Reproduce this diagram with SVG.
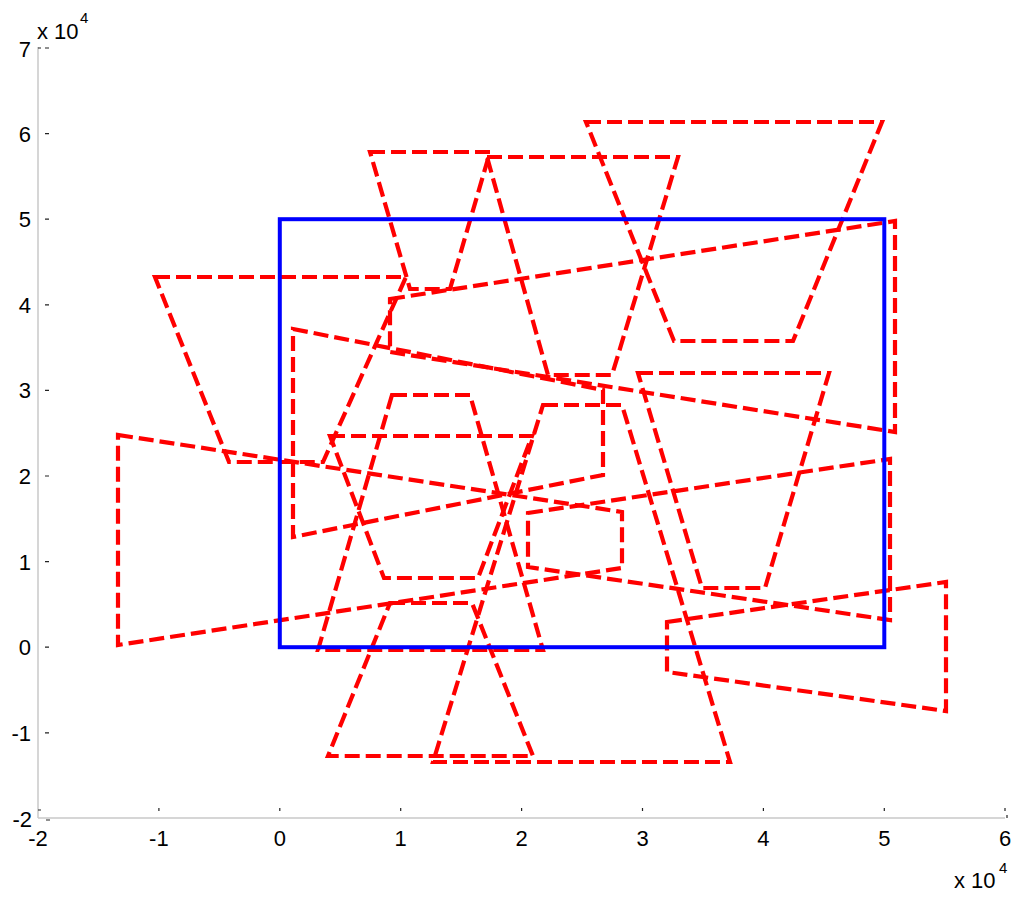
<svg xmlns="http://www.w3.org/2000/svg" width="1024" height="899" viewBox="0 0 1024 899">
<style>
.ax{stroke:#c8c8c8;stroke-width:1.5;fill:none}
.tk{stroke:#222;stroke-width:1.2;fill:none}
.lb{font-family:"Liberation Sans",Arial,sans-serif;font-size:22px;fill:#000}
.ly{text-anchor:end}
.lx{text-anchor:middle}
.sup{font-family:"Liberation Sans",Arial,sans-serif;font-size:15px;fill:#000}
.r{fill:none;stroke:#ff0000;stroke-width:4.2;stroke-dasharray:15 6;stroke-linejoin:miter}
.b{fill:none;stroke:#0000ff;stroke-width:4}
</style>
<rect width="1024" height="899" fill="#fff"/>
<g id="axes">
<line class="ax" x1="38" y1="47" x2="38" y2="818"/>
<line class="ax" x1="38" y1="818" x2="1005" y2="818"/>
<g class="tk">
<path d="M45 48H49M45 133.6H49M45 219.2H49M45 304.8H49M45 390.4H49M45 476H49M45 561.6H49M45 647.2H49M45 732.8H49M38 810H41M46 820H50M38 48H41"/>
<path d="M158.9 808V811M279.8 808V811M400.7 808V811M521.6 808V811M642.5 808V811M763.4 808V811M884.3 808V811M1005 808V811M1007 815V818"/>
</g>
<g class="lb ly">
<text x="31" y="57">7</text>
<text x="31" y="141.6">6</text>
<text x="31" y="227.2">5</text>
<text x="31" y="312.8">4</text>
<text x="31" y="398.4">3</text>
<text x="31" y="484">2</text>
<text x="31" y="569.6">1</text>
<text x="31" y="655.2">0</text>
<text x="31" y="740.8">-1</text>
<text x="32" y="827">-2</text>
</g>
<g class="lb lx">
<text x="38" y="846">-2</text>
<text x="158.9" y="846">-1</text>
<text x="279.8" y="846">0</text>
<text x="400.7" y="846">1</text>
<text x="521.6" y="846">2</text>
<text x="642.5" y="846">3</text>
<text x="763.4" y="846">4</text>
<text x="884.3" y="846">5</text>
<text x="1005" y="846">6</text>
</g>
<text class="lb" x="37" y="39">x 10</text>
<text class="sup" x="80" y="23">4</text>
<text class="lb" x="954" y="888">x 10</text>
<text class="sup" x="999" y="873">4</text>
</g>
<g id="red-shapes">
<polygon id="p1" class="r" points="370,152 490,152 450,289 410,289"/>
<polygon id="p2" class="r" points="487,157 678,157 612,375 548,375"/>
<polygon id="p3" class="r" points="586,122 882,122 793,341 674,341"/>
<polygon id="p4" class="r" points="155,277 406,277 323,462 229,462"/>
<polygon id="p5" class="r" points="330,436 532,436 478,578 384,578"/>
<polygon id="p6" class="r" points="392,395 470,395 543,650 318,650"/>
<polygon id="p7" class="r" points="118,435 622,512 622,568 118,645"/>
<polygon id="p8" class="r" points="293,329 603,390 603,475 293,537"/>
<polygon id="p9" class="r" points="390,299 895,221 895,432 390,352"/>
<polygon id="p10" class="r" points="528,513 890,459 890,620 528,567"/>
<polygon id="p11" class="r" points="638,373 829,373 765,588 702,588"/>
<polygon id="p12" class="r" points="543,405 622,405 730,762 433,762"/>
<polygon id="p13" class="r" points="390,603 472,603 533,756 328,756"/>
<polygon id="p14" class="r" points="667,622 946,582 946,711 667,672"/>
</g>
<g id="blue-rect">
<rect class="b" x="279.8" y="219.2" width="604.5" height="428"/>
</g>
</svg>
